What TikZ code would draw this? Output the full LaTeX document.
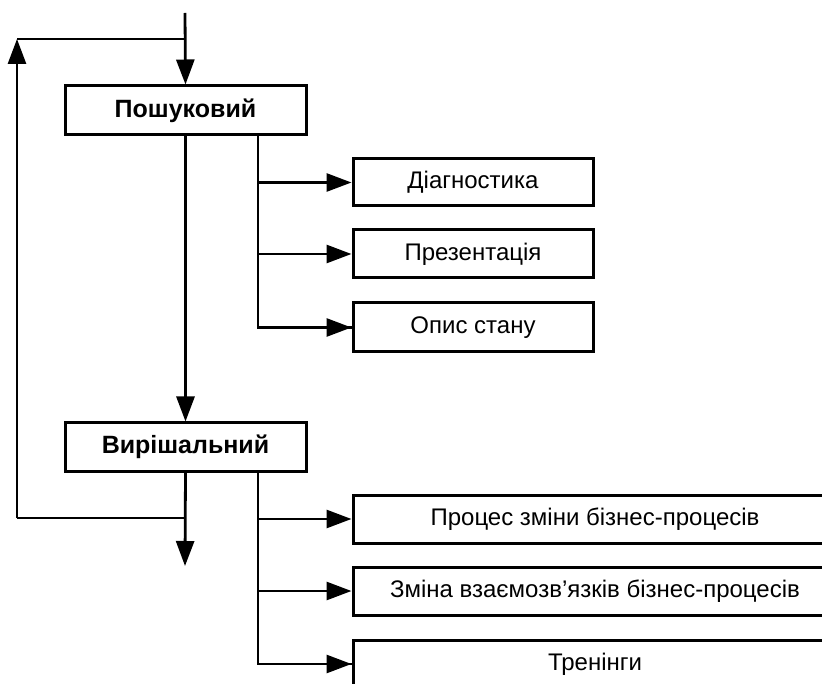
\documentclass[tikz,border=0pt]{standalone}
\usepackage{fontspec}
\setmainfont{Liberation Sans}
\usetikzlibrary{arrows.meta}
\begin{document}
\begin{tikzpicture}[x=1pt,y=-1pt,
  box/.style={draw,line width=3pt,fill=white,inner sep=0pt,minimum height=48pt,
    font=\fontsize{24}{28}\selectfont},
  mainbox/.style={box,minimum width=241pt,font=\fontsize{25}{29}\selectfont\bfseries},
  subbox/.style={box,minimum width=240pt},
  widebox/.style={box,minimum width=484pt},
  conn/.style={line width=2.8pt},
  arr/.style={conn,-{Triangle[length=25pt,width=18pt]}}]
\useasboundingbox (0,0) rectangle (822,684);
\clip (0,0) rectangle (822,684);
% main boxes
\node[mainbox,minimum height=49pt] (P) at (185.5,110.5) {Пошуковий};
\node[mainbox] (V) at (185.5,447) {Вирішальний};
% sub boxes
\node[subbox,minimum height=47pt] (D) at (473,182.5) {Діагностика};
\node[subbox] (Pr) at (473,254) {Презентація};
\node[subbox,minimum height=49pt] (O) at (473,327.5) {Опис стану};
\node[widebox] (B1) at (595,519) {Процес зміни бізнес-процесів};
\node[widebox] (B2) at (595,591) {Зміна взаємозв’язків бізнес-процесів};
\node[widebox] (B3) at (595,664) {Тренінги};
% coordinates
\coordinate (top) at (185,13);
\coordinate (jt) at (185,39);
\coordinate (lt) at (17,39);
\coordinate (lb) at (17,518);
\coordinate (jb) at (185,518);
\coordinate (bot) at (185,566);
\coordinate (pb) at (258,135);
\coordinate (vb) at (258,471);
% main flow
\draw[arr] (top) -- (P.north);
\draw[arr] (P.south) -- (V.north);
\draw[arr] (V.south) -- (bot);
% feedback loop
\draw[conn] (jb) -- (lb);
\draw[arr] (lb) -- (lt);
\draw[conn] (lt) -- (jt);
% branch from P
\draw[conn] (pb) |- (O.west);
\draw[arr] (pb |- O.west) -- (O.west);
\draw[arr] (pb |- D.west) -- (D.west);
\draw[arr] (pb |- Pr.west) -- (Pr.west);
% branch from V
\draw[conn] (vb) |- (B3.west);
\draw[arr] (vb |- B3.west) -- (B3.west);
\draw[arr] (vb |- B1.west) -- (B1.west);
\draw[arr] (vb |- B2.west) -- (B2.west);
\end{tikzpicture}
\end{document}
